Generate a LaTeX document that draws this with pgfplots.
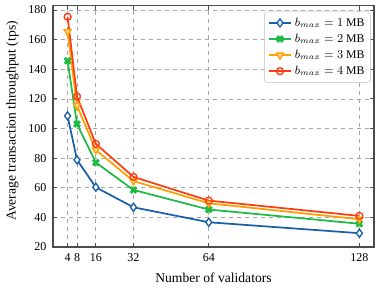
\documentclass[border=0pt]{standalone}
\usepackage{fontspec}
\setmainfont{Liberation Serif}
\usepackage{pgfplots}
\pgfplotsset{compat=1.18}
\definecolor{cblue}{HTML}{1A5FAA}
\definecolor{cgreen}{HTML}{1DBA45}
\definecolor{corange}{HTML}{FFA000}
\definecolor{cred}{HTML}{FF3B10}
\begin{document}
\begin{tikzpicture}
\useasboundingbox (-39.75pt,-33.75pt) rectangle (246.75pt,185.25pt);
\begin{axis}[
  at={(0pt,0pt)}, anchor=south west,
  scale only axis,
  width=240.75pt, height=181.1pt,
  xmin=-2.2, xmax=134.2,
  ymin=20, ymax=183,
  xtick={4,8,16,32,64,128},
  xticklabels={4,8,16,32,64,128},
  ytick={20,40,60,80,100,120,140,160,180},
  yticklabels={20,40,60,80,100,120,140,160,180},
  tick align=inside,
  tick pos=both,
  major tick length=3pt,
  grid=major,
  major grid style={dashed, gray!70, line width=0.5pt},
  axis line style={line width=0.9pt, black!70},
  every tick/.style={black!70, line width=0.6pt},
  tick label style={font=\fontsize{9}{11}\selectfont},
  yticklabel style={xshift=-1.5pt},
  xticklabel style={yshift=-1.5pt},
  xlabel={Number of validators},
  ylabel={Average transaction throughput (tps)},
  every axis x label/.style={at={(axis description cs:0.5,0)}, anchor=base, yshift=-26.5pt, font=\fontsize{10.2}{12}\selectfont},
  every axis y label/.style={at={(axis description cs:0,0.5)}, anchor=center, rotate=90, yshift=30.4pt, xshift=4pt, font=\fontsize{10.2}{12}\selectfont},
  legend style={at={(rel axis cs:1,1)}, anchor=north east, xshift=-2.5pt, yshift=-4.5pt,
    font=\fontsize{8.8}{10}\selectfont, draw=black!25, rounded corners=2pt, fill=white, fill opacity=0.85, text opacity=1, row sep=0.3pt, inner sep=2.5pt},
  legend cell align=left,
]
\addplot[color=cblue, line width=1.3pt, mark=diamond*, mark size=3pt, mark options={fill=white, line width=1pt}]
 coordinates {(4,108.5) (8,78.8) (16,60.3) (32,46.8) (64,36.7) (128,29.3)};
\addlegendentry{$b_{max}=1$ MB}
\addplot[color=cgreen, line width=1.3pt, mark=x, mark size=3pt, mark options={line width=2.2pt}]
 coordinates {(4,145.7) (8,103) (16,77) (32,58.5) (64,45.3) (128,35.7)};
\addlegendentry{$b_{max}=2$ MB}
\addplot[color=corange, line width=1.3pt, mark=triangle*, mark size=3pt, mark options={rotate=180, fill=corange!40, line width=1pt}]
 coordinates {(4,165.3) (8,115.3) (16,85.5) (32,64.5) (64,49.5) (128,38.7)};
\addlegendentry{$b_{max}=3$ MB}
\addplot[color=cred, line width=1.3pt, mark=o, mark size=2.6pt, mark options={fill=white, line width=1pt}]
 coordinates {(4,175.4) (8,121.6) (16,89.6) (32,67.3) (64,51.3) (128,41)};
\addlegendentry{$b_{max}=4$ MB}
\end{axis}
\end{tikzpicture}
\end{document}
